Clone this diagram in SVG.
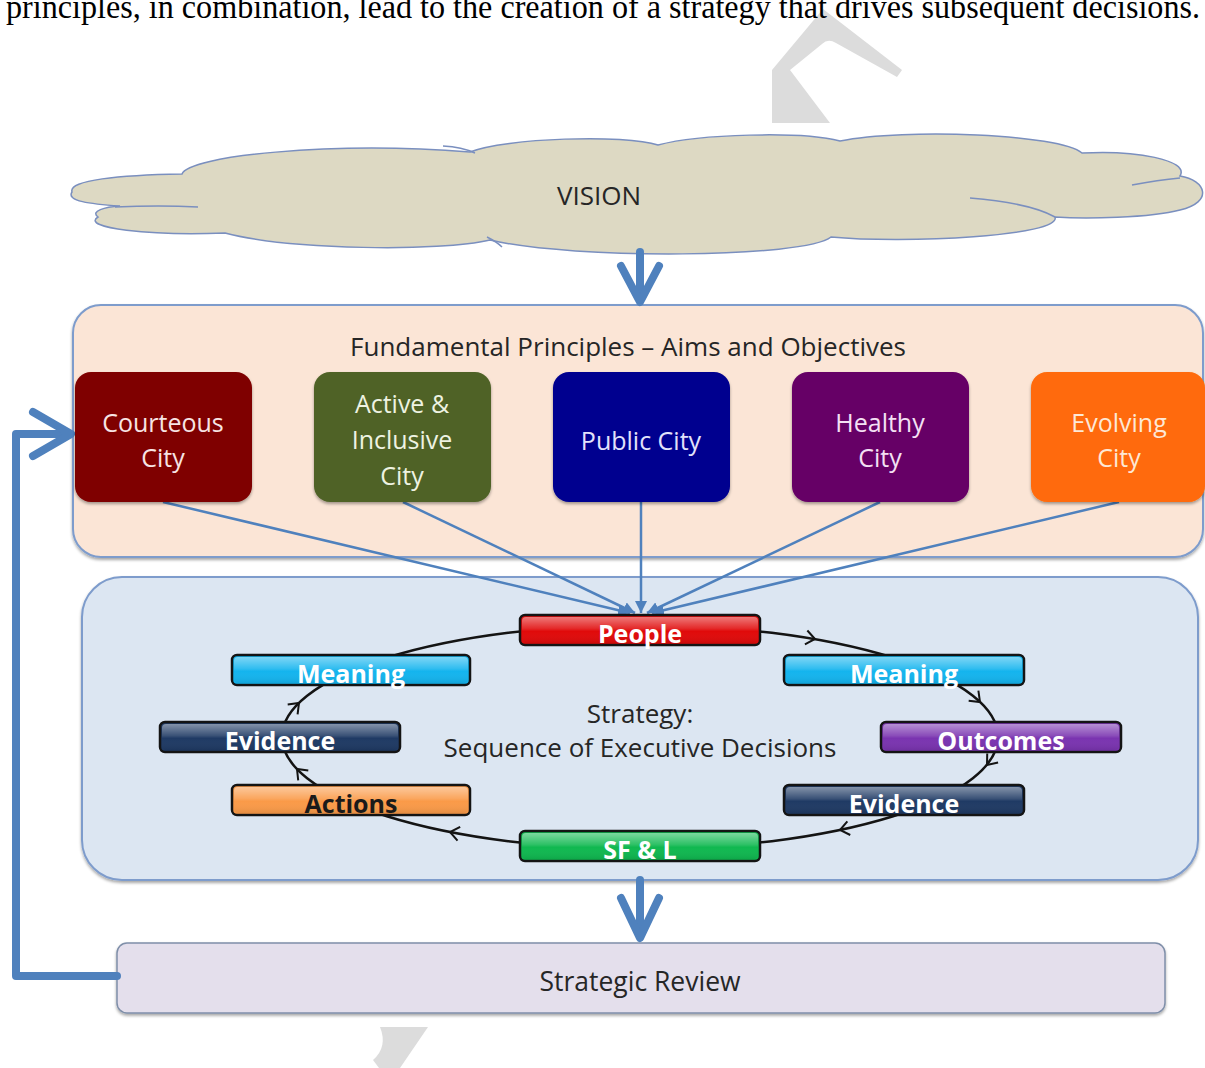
<svg xmlns="http://www.w3.org/2000/svg" width="1205" height="1068" viewBox="0 0 1205 1068">
<defs>
<style>
.lbl{font-family:"Open Sans","Liberation Sans",sans-serif;fill:#262626;text-anchor:middle}
.plbl{font-family:"Open Sans","Liberation Sans",sans-serif;font-size:25px;text-anchor:middle}
.blbl{font-family:"Open Sans","Liberation Sans",sans-serif;font-size:25px;font-weight:bold;fill:#ffffff;text-anchor:middle}
.cbox{stroke:#141414;stroke-width:2.5}
.gloss{fill:url(#gloss);stroke:none}
.blue{fill:none;stroke:#4f81bd;stroke-linecap:round;stroke-linejoin:round}
.thin{fill:none;stroke:#4f81bd;stroke-width:2.5}
.chev{fill:none;stroke:#141414;stroke-width:2}
.seam{fill:none;stroke:#7a8fbf;stroke-width:1.5}
</style>
<linearGradient id="gloss" x1="0" y1="0" x2="0" y2="1">
<stop offset="0" stop-color="#ffffff" stop-opacity="0.45"/>
<stop offset="0.45" stop-color="#ffffff" stop-opacity="0.12"/>
<stop offset="0.55" stop-color="#ffffff" stop-opacity="0"/>
<stop offset="1" stop-color="#000000" stop-opacity="0.08"/>
</linearGradient>
<filter id="sh" x="-5%" y="-10%" width="110%" height="130%">
<feDropShadow dx="0" dy="2" stdDeviation="1.5" flood-color="#000" flood-opacity="0.35"/>
</filter>
<marker id="ah" markerUnits="userSpaceOnUse" markerWidth="14" markerHeight="12" refX="12" refY="6" orient="auto">
<path d="M0,0 L12,6 L0,12 z" fill="#4f81bd"/>
</marker>
</defs>
<rect width="1205" height="1068" fill="#ffffff"/>
<g id="watermark" fill="#dcdcdc">
<path d="M823,9 L902,70 L897,77 L836,43 Q828,38 822,44 L790,70 L830,123 L772,123 L772,70 Z"/>
<path d="M380,1027 L428,1027 L400,1068 L379,1068 L373,1060 Q388,1047 380,1027 Z"/>
</g>
<text x="6" y="18" font-family="Liberation Serif, serif" font-size="33" fill="#000" textLength="1194" lengthAdjust="spacingAndGlyphs">principles, in combination, lead to the creation of a strategy that drives subsequent decisions.</text>

<g id="vision">
<path d="M72,192 C68,180 120,175 182,174 C188,156 330,141 470,152 C505,138 625,134 658,145 C700,134 800,131 840,141 C905,128 1060,134 1082,153 C1135,150 1190,160 1180,176 C1206,180 1214,202 1180,210 C1150,218 1085,219 1055,217 C1062,236 905,244 831,237 C805,258 575,260 490,240 C440,252 290,250 225,233 C150,236 80,228 98,217 C90,211 105,207 120,206 C90,204 66,201 72,192 Z" fill="#ddd9c3" stroke="#7a8fbf" stroke-width="1.5"/>
<path class="seam" d="M115,207 Q160,205 198,207"/>
<path class="seam" d="M443,146 Q462,147 475,153"/>
<path class="seam" d="M970,198 Q1030,203 1055,217"/>
<path class="seam" d="M1132,185 Q1158,180 1180,178"/>
<path class="seam" d="M487,237 Q497,242 502,247"/>
<text class="lbl" x="599" y="205" font-size="26">VISION</text>
</g>

<g id="principles">
<rect x="73" y="305" width="1130" height="252" rx="28" fill="#fbe5d6" stroke="#7e9ccc" stroke-width="2" filter="url(#sh)"/>
<text class="lbl" x="628" y="356" font-size="26">Fundamental Principles – Aims and Objectives</text>
</g>

<g id="strategy">
<rect x="82" y="577" width="1116" height="303" rx="40" fill="#dce6f2" stroke="#7e9ccc" stroke-width="2" filter="url(#sh)"/>
<text class="lbl" x="640" y="723" font-size="26">Strategy:</text>
<text class="lbl" x="640" y="757" font-size="26">Sequence of Executive Decisions</text>
</g>

<g id="strategic-review">
<rect x="117" y="943" width="1048" height="70" rx="10" fill="#e4dfec" stroke="#7f8fa9" stroke-width="1.5" filter="url(#sh)"/>
<text class="lbl" x="640" y="991" font-size="26.5">Strategic Review</text>
</g>

<g id="connectors">
<path class="blue" stroke-width="8" d="M640,252 L640,300"/>
<path class="blue" stroke-width="8" d="M621,266 L640,302 L659,266"/>
<path class="thin" marker-end="url(#ah)" d="M163,502 L630,613"/>
<path class="thin" marker-end="url(#ah)" d="M403,502 L635,613"/>
<path class="thin" marker-end="url(#ah)" d="M641,502 L641,613"/>
<path class="thin" marker-end="url(#ah)" d="M880,502 L647,613"/>
<path class="thin" marker-end="url(#ah)" d="M1119,502 L652,613"/>
<ellipse cx="640" cy="737" rx="358" ry="112" fill="none" stroke="#141414" stroke-width="2.5"/>
<path class="chev" d="M-9,-7 L0,0 L-9,7" transform="translate(815,639) rotate(10)"/>
<path class="chev" d="M-9,-7 L0,0 L-9,7" transform="translate(980,702) rotate(44)"/>
<path class="chev" d="M-9,-7 L0,0 L-9,7" transform="translate(987,765) rotate(129)"/>
<path class="chev" d="M-9,-7 L0,0 L-9,7" transform="translate(840,830) rotate(168)"/>
<path class="chev" d="M-9,-7 L0,0 L-9,7" transform="translate(450,832) rotate(191)"/>
<path class="chev" d="M-9,-7 L0,0 L-9,7" transform="translate(297,769) rotate(226)"/>
<path class="chev" d="M-9,-7 L0,0 L-9,7" transform="translate(299,703) rotate(315)"/>
<path class="blue" stroke-width="8" d="M640,880 L640,936"/>
<path class="blue" stroke-width="8" d="M621,898 L640,938 L659,898"/>
<path class="blue" stroke-width="8" stroke-linecap="butt" d="M117,976 L16,976 L16,434 L66,434"/>
<path class="blue" stroke-width="8" d="M33,412 L71,434 L33,456"/>
</g>

<g id="courteous-city">
<rect x="75" y="372" width="177" height="130" rx="16" fill="#7f0000" filter="url(#sh)"/>
<text class="plbl" x="163" y="432" fill="#f7e4e4">Courteous</text>
<text class="plbl" x="163" y="467" fill="#f7e4e4">City</text>
</g>
<g id="active-inclusive-city">
<rect x="314" y="372" width="177" height="130" rx="16" fill="#4f6228" filter="url(#sh)"/>
<text class="plbl" x="402" y="413" fill="#eef3e2">Active &amp;</text>
<text class="plbl" x="402" y="449" fill="#eef3e2">Inclusive</text>
<text class="plbl" x="402" y="485" fill="#eef3e2">City</text>
</g>
<g id="public-city">
<rect x="553" y="372" width="177" height="130" rx="16" fill="#00008f" filter="url(#sh)"/>
<text class="plbl" x="641" y="450" fill="#e2e2fb">Public City</text>
</g>
<g id="healthy-city">
<rect x="792" y="372" width="177" height="130" rx="16" fill="#660066" filter="url(#sh)"/>
<text class="plbl" x="880" y="432" fill="#f4e0f4">Healthy</text>
<text class="plbl" x="880" y="467" fill="#f4e0f4">City</text>
</g>
<g id="evolving-city">
<rect x="1031" y="372" width="174" height="130" rx="16" fill="#ff6a08" filter="url(#sh)"/>
<text class="plbl" x="1119" y="432" fill="#fde8d6">Evolving</text>
<text class="plbl" x="1119" y="467" fill="#fde8d6">City</text>
</g>

<g id="people">
<rect class="cbox" x="520" y="615" width="240" height="30" rx="5" fill="#e00a0a"/>
<rect class="gloss" x="522" y="617" width="236" height="26" rx="4"/>
<text class="blbl" x="640" y="643">People</text>
</g>
<g id="meaning-left">
<rect class="cbox" x="232" y="655" width="238" height="30" rx="5" fill="#14b4ee"/>
<rect class="gloss" x="234" y="657" width="234" height="26" rx="4"/>
<text class="blbl" x="351" y="683">Meaning</text>
</g>
<g id="evidence-left">
<rect class="cbox" x="160" y="722" width="240" height="30" rx="5" fill="#1f3a64"/>
<rect class="gloss" x="162" y="724" width="236" height="26" rx="4"/>
<text class="blbl" x="280" y="750">Evidence</text>
</g>
<g id="actions">
<rect class="cbox" x="232" y="785" width="238" height="30" rx="5" fill="#fa9a48"/>
<rect class="gloss" x="234" y="787" width="234" height="26" rx="4"/>
<text class="blbl" x="351" y="813" style="fill:#1a1a1a">Actions</text>
</g>
<g id="meaning-right">
<rect class="cbox" x="784" y="655" width="240" height="30" rx="5" fill="#14b4ee"/>
<rect class="gloss" x="786" y="657" width="236" height="26" rx="4"/>
<text class="blbl" x="904" y="683">Meaning</text>
</g>
<g id="outcomes">
<rect class="cbox" x="881" y="722" width="240" height="30" rx="5" fill="#7a34b0"/>
<rect class="gloss" x="883" y="724" width="236" height="26" rx="4"/>
<text class="blbl" x="1001" y="750">Outcomes</text>
</g>
<g id="evidence-right">
<rect class="cbox" x="784" y="785" width="240" height="30" rx="5" fill="#1f3a64"/>
<rect class="gloss" x="786" y="787" width="236" height="26" rx="4"/>
<text class="blbl" x="904" y="813">Evidence</text>
</g>
<g id="sf-l">
<rect class="cbox" x="520" y="831" width="240" height="30" rx="5" fill="#10b850"/>
<rect class="gloss" x="522" y="833" width="236" height="26" rx="4"/>
<text class="blbl" x="640" y="859">SF &amp; L</text>
</g>
</svg>
